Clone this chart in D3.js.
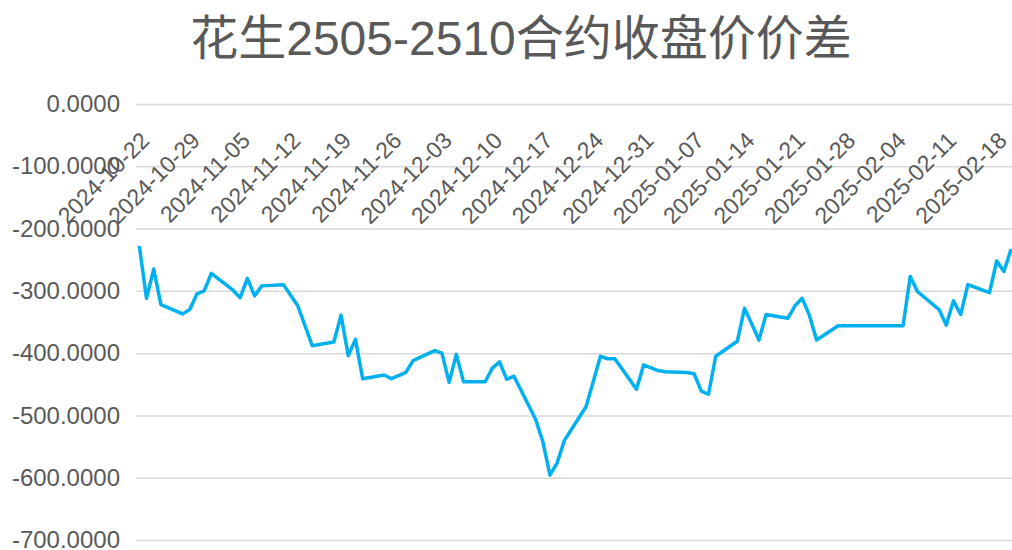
<!DOCTYPE html>
<html>
<head>
<meta charset="utf-8">
<script src="https://cdn.jsdelivr.net/npm/d3@7"></script>
<style>
  body { margin: 0; background: #fff; }
  svg { display: block; font-family: "Liberation Sans", Arial, "Noto Sans CJK SC", sans-serif; }
</style>
</head>
<body>
<div id="chart"></div>
<script>
// trading days (date axis, gaps are weekends / holidays)
const dates = [
  "2024-10-22","2024-10-23","2024-10-24","2024-10-25","2024-10-28","2024-10-29","2024-10-30","2024-10-31",
  "2024-11-01","2024-11-04","2024-11-05","2024-11-06","2024-11-07","2024-11-08","2024-11-11","2024-11-12",
  "2024-11-13","2024-11-14","2024-11-15","2024-11-18","2024-11-19","2024-11-20","2024-11-21","2024-11-22",
  "2024-11-25","2024-11-26","2024-11-27","2024-11-28","2024-11-29","2024-12-02","2024-12-03","2024-12-04",
  "2024-12-05","2024-12-06","2024-12-09","2024-12-10","2024-12-11","2024-12-12","2024-12-13","2024-12-16",
  "2024-12-17","2024-12-18","2024-12-19","2024-12-20","2024-12-23","2024-12-24","2024-12-25","2024-12-26",
  "2024-12-27","2024-12-30","2024-12-31","2025-01-02","2025-01-03","2025-01-06","2025-01-07","2025-01-08",
  "2025-01-09","2025-01-10","2025-01-13","2025-01-14","2025-01-15","2025-01-16","2025-01-17","2025-01-20",
  "2025-01-21","2025-01-22","2025-01-23","2025-01-24","2025-01-27","2025-02-05","2025-02-06","2025-02-07",
  "2025-02-10","2025-02-11","2025-02-12","2025-02-13","2025-02-14","2025-02-17","2025-02-18","2025-02-19",
  "2025-02-20"
];
const spread = [
  -228, -312, -265, -322, -337, -330, -305, -300,
  -272, -299, -311, -280, -308, -292, -290, -307,
  -324, -356, -388, -382, -339, -404, -378, -441,
  -435, -441, -436, -431, -412, -396, -400, -447,
  -402, -446, -446, -424, -414, -442, -437, -506,
  -542, -596, -576, -540, -486, -446, -405, -409,
  -409, -458, -419, -428, -430, -431, -433, -461,
  -466, -405, -381, -328, -353, -379, -338, -344,
  -324, -312, -339, -379, -356, -356, -277, -301,
  -330, -355, -316, -338, -290, -303, -252, -269,
  -233
];
const xTickLabels = [
  "2024-10-22","2024-10-29","2024-11-05","2024-11-12","2024-11-19","2024-11-26","2024-12-03","2024-12-10",
  "2024-12-17","2024-12-24","2024-12-31","2025-01-07","2025-01-14","2025-01-21","2025-01-28","2025-02-04",
  "2025-02-11","2025-02-18"
];
const yTicks = [0, -100, -200, -300, -400, -500, -600, -700];
const title = "花生2505-2510合约收盘价价差";

const width = 1012, height = 550;
const parse = d3.utcParse("%Y-%m-%d");
const fmt = d3.utcFormat("%Y-%m-%d");
const day = 86400000;

const svg = d3.select("#chart").append("svg")
  .attr("width", width)
  .attr("height", height);

const data = dates.map((d, i) => ({ date: parse(d), v: spread[i] }));

// one slot per calendar day, points sit in the middle of their slot
const first = data[0].date, last = data[data.length - 1].date;
const x = d3.scaleUtc()
  .domain([new Date(+first - day / 2), new Date(+last + day / 2)])
  .range([135.7, 135.7 + 122 * 7.205]);

const y = d3.scaleLinear()
  .domain([-700, 0])
  .range([540, 104]);

// title
svg.append("text")
  .attr("x", 521)
  .attr("y", 55)
  .attr("text-anchor", "middle")
  .attr("font-size", "48px")
  .attr("fill", "#595959")
  .text(title);

// y axis + gridlines
const yAxis = svg.append("g")
  .attr("transform", "translate(136,0)")
  .call(d3.axisLeft(y)
    .tickValues(yTicks)
    .tickFormat(d => d.toFixed(4))
    .tickSize(-(width - 136))
    .tickPadding(16));
yAxis.select(".domain").remove();
yAxis.selectAll("line")
  .attr("stroke", "#d9d9d9")
  .attr("stroke-width", 1.5);
yAxis.selectAll("text")
  .attr("font-size", "24px")
  .attr("fill", "#595959")
  .attr("font-family", null);

// x axis labels (crossing at 0, rotated)
const xAxis = svg.append("g")
  .attr("transform", "translate(0,141)")
  .call(d3.axisBottom(x)
    .tickValues(xTickLabels.map(parse))
    .tickFormat(fmt)
    .tickSize(0));
xAxis.select(".domain").remove();
xAxis.selectAll("text")
  .attr("x", null)
  .attr("y", null)
  .attr("dy", null)
  .attr("text-anchor", "end")
  .attr("transform", "translate(11,1) rotate(-45)")
  .attr("font-size", "23px")
  .attr("fill", "#595959")
  .attr("font-family", null);

// spread line
const line = d3.line()
  .x(d => x(d.date))
  .y(d => y(d.v));

svg.append("path")
  .datum(data)
  .attr("fill", "none")
  .attr("stroke", "#00b0f0")
  .attr("stroke-width", 3.5)
  .attr("stroke-linejoin", "round")
  .attr("d", line);
</script>
</body>
</html>
